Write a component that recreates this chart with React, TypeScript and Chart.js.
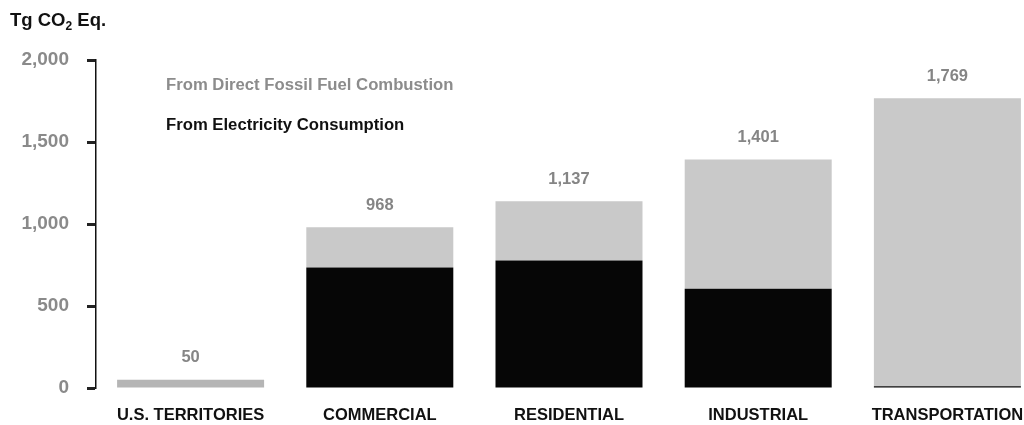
import React, { useEffect, useRef } from "react";
import { Chart, registerables } from "chart.js";

Chart.register(...registerables);

const categories = ["U.S. TERRITORIES", "COMMERCIAL", "RESIDENTIAL", "INDUSTRIAL", "TRANSPORTATION"];
const electricityConsumption = [0, 735, 777, 605, 10];
const directFossilCombustion = [50, 245, 362, 788, 1757];
const totals = [50, 968, 1137, 1401, 1769];
const yTickValues = [0, 500, 1000, 1500, 2000];
const seriesLabels = ["From Electricity Consumption", "From Direct Fossil Fuel Combustion"];
const unitTitle = { main: "Tg CO", sub: "2", tail: " Eq." };

const FONT = "'Liberation Sans', Arial, Helvetica, sans-serif";

const overlayPlugin = {
  id: "overlay",
  afterDatasetsDraw(chart: any) {
    const ctx = chart.ctx;
    ctx.save();
    // unit title
    ctx.fillStyle = "#111111";
    ctx.textBaseline = "alphabetic";
    ctx.textAlign = "left";
    ctx.font = `bold 18.5px ${FONT}`;
    let x = 10;
    ctx.fillText(unitTitle.main, x, 26);
    x += ctx.measureText(unitTitle.main).width;
    ctx.font = `bold 12px ${FONT}`;
    ctx.fillText(unitTitle.sub, x, 30);
    x += ctx.measureText(unitTitle.sub).width;
    ctx.font = `bold 18.5px ${FONT}`;
    ctx.fillText(unitTitle.tail, x, 26);

    // legend (text only)
    const ds = chart.data.datasets;
    ctx.font = `bold 16.7px ${FONT}`;
    ctx.fillStyle = "#8c8c8c";
    ctx.fillText(ds[1].label, 166, 89.5);
    ctx.fillStyle = "#111111";
    ctx.fillText(ds[0].label, 166, 130);

    // value labels
    const meta = chart.getDatasetMeta(1);
    ctx.font = `bold 16.5px ${FONT}`;
    ctx.fillStyle = "#858585";
    ctx.textAlign = "center";
    ctx.textBaseline = "middle";
    meta.data.forEach((el: any, i: number) => {
      ctx.fillText(totals[i].toLocaleString("en-US"), el.x, el.y - 22);
    });
    ctx.restore();
  },
};

export default function App() {
  const ref = useRef<HTMLCanvasElement>(null);
  useEffect(() => {
    if (!ref.current) return;
    const chart = new Chart(ref.current, {
      type: "bar",
      data: {
        labels: categories,
        datasets: [
          {
            label: seriesLabels[0],
            data: electricityConsumption,
            backgroundColor: "#060606",
            borderWidth: 0,
          },
          {
            label: seriesLabels[1],
            data: directFossilCombustion,
            backgroundColor: ["#b5b5b5", "#c9c9c9", "#c9c9c9", "#c9c9c9", "#c9c9c9"],
            borderWidth: 0,
          },
        ],
      },
      options: {
        responsive: false,
        animation: false,
        devicePixelRatio: 1,
        layout: { padding: { top: 60, right: 18, left: 0, bottom: 0 } },
        plugins: { legend: { display: false }, tooltip: { enabled: false }, title: { display: false } },
        datasets: { bar: { categoryPercentage: 1, barPercentage: 0.777 } },
        scales: {
          x: {
            stacked: true,
            grid: { display: false, drawTicks: false },
            border: { display: false },
            ticks: {
              color: "#111111",
              font: { family: FONT, size: 16.5, weight: "bold" },
              padding: 18,
              maxRotation: 0,
              autoSkip: false,
            },
            afterFit: (s: any) => {
              s.height = 37;
            },
          },
          y: {
            stacked: true,
            min: 0,
            max: 2000,
            afterBuildTicks: (s: any) => {
              s.ticks = yTickValues.map((v) => ({ value: v }));
            },
            grid: {
              drawOnChartArea: false,
              drawTicks: true,
              tickLength: 9,
              tickWidth: 3,
              tickColor: "#222222",
            },
            border: { display: true, color: "#111111", width: 1.5 },
            ticks: {
              color: "#8a8a8a",
              font: { family: FONT, size: 19, weight: "bold" },
              padding: 18,
              callback: (v: any) => Number(v).toLocaleString("en-US"),
            },
            afterFit: (s: any) => {
              s.width = 96;
            },
          },
        },
      },
      plugins: [overlayPlugin],
    });
    return () => chart.destroy();
  }, []);
  return (
    <div style={{ position: "absolute", left: 0, top: 0, width: 1024, height: 425, overflow: "hidden", background: "#ffffff" }}>
      <canvas ref={ref} width={1060} height={425} style={{ display: "block", width: 1060, height: 425 }} />
    </div>
  );
}
